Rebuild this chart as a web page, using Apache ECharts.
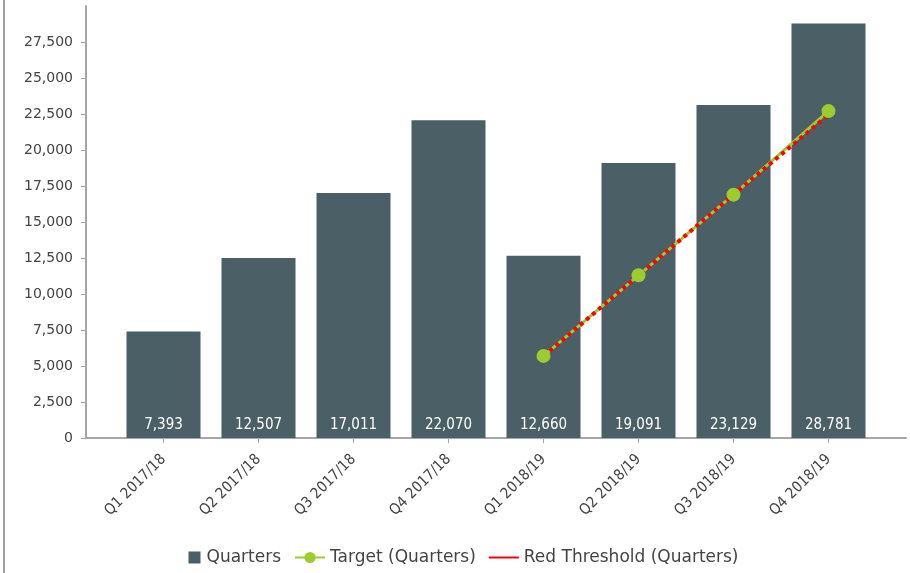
<!DOCTYPE html>
<html>
<head>
<meta charset="utf-8">
<script src="https://cdn.jsdelivr.net/npm/echarts@6/dist/echarts.min.js"></script>
<style>
  html, body { margin: 0; padding: 0; background: #fff; }
  #chart { width: 910px; height: 573px; }
</style>
</head>
<body>
<div id="chart"></div>
<script>
// data
var categories = ['Q1 2017/18', 'Q2 2017/18', 'Q3 2017/18', 'Q4 2017/18',
                  'Q1 2018/19', 'Q2 2018/19', 'Q3 2018/19', 'Q4 2018/19'];
var quarters = [7393, 12507, 17011, 22070, 12660, 19091, 23129, 28781];
var target = [null, null, null, null, 5700, 11300, 16900, 22700];
var redThreshold = [null, null, null, null, 5680, 11290, 16900, 22450];

var fmt = function (v) { return Number(v).toLocaleString('en-US'); };
var font = 'DejaVu Sans';
var axisGray = '#a6a6a6';

var chart = echarts.init(document.getElementById('chart'));
chart.setOption({
    animation: false,
    textStyle: { fontFamily: font },
    graphic: [
        // left border of the panel
        { type: 'line', shape: { x1: 4, y1: 0, x2: 4, y2: 573 },
          style: { stroke: '#a0a0a0', lineWidth: 2 } }
    ],
    grid: [
        { left: 86, right: 4, top: 6, bottom: 135 },
        { left: 116, right: 34, top: 6, bottom: 135 }
    ],
    xAxis: [
        {
            gridIndex: 0, type: 'value', min: 0, max: 1,
            axisLine: { show: true, lineStyle: { color: axisGray, width: 2 } },
            axisTick: { show: false }, axisLabel: { show: false }, splitLine: { show: false }
        },
        {
            gridIndex: 1, type: 'category', data: categories,
            axisLine: { show: false },
            axisTick: { show: true, alignWithLabel: true, length: 5, lineStyle: { color: axisGray } },
            axisLabel: { rotate: 45, margin: 19, fontSize: 15, color: '#444', fontFamily: 'DejaVu Sans Condensed' },
            splitLine: { show: false }
        }
    ],
    yAxis: [
        {
            gridIndex: 0, type: 'value', min: 0, max: 30000, interval: 2500,
            axisLine: { show: true, lineStyle: { color: axisGray, width: 2 } },
            axisTick: { show: true, length: 5, lineStyle: { color: axisGray } },
            axisLabel: { showMaxLabel: false, fontSize: 14, color: '#444', margin: 13,
                         formatter: fmt, fontFamily: font },
            splitLine: { show: false }
        },
        {
            gridIndex: 1, type: 'value', min: 0, max: 30000, show: false,
            splitLine: { show: false }
        }
    ],
    legend: {
        bottom: 2,
        left: 'center',
        itemGap: 13,
        itemWidth: 30,
        itemHeight: 14,
        textStyle: { fontSize: 17, color: '#444', fontFamily: font },
        data: [
            { name: 'Quarters', icon: 'path://M0,0h0.01v0.01h-0.01zM30,14h-0.01v-0.01h0.01zM17,1h12v12h-12z' },
            { name: 'Target (Quarters)' },
            { name: 'Red Threshold (Quarters)', icon: 'path://M0,0h30v2h-30z' }
        ]
    },
    series: [
        {
            name: 'Quarters', type: 'bar', data: quarters,
            xAxisIndex: 1, yAxisIndex: 1,
            barWidth: 74,
            itemStyle: { color: '#4b5f66' },
            label: {
                show: true, position: 'insideBottom', distance: 5,
                color: '#fff', fontSize: 15, fontFamily: 'DejaVu Sans Condensed',
                formatter: function (p) { return fmt(p.value); }
            }
        },
        {
            name: 'Target (Quarters)', type: 'line', data: target,
            xAxisIndex: 1, yAxisIndex: 1,
            symbol: 'circle', symbolSize: 14,
            itemStyle: { color: '#9ccc2e' },
            lineStyle: { color: '#9ccc2e', width: 3 }
        },
        {
            name: 'Red Threshold (Quarters)', type: 'line', data: redThreshold,
            xAxisIndex: 1, yAxisIndex: 1,
            symbol: 'none',
            itemStyle: { color: '#ff0000' },
            lineStyle: { color: '#ff0000', width: 4, type: [4, 4] }
        }
    ]
});
</script>
</body>
</html>
